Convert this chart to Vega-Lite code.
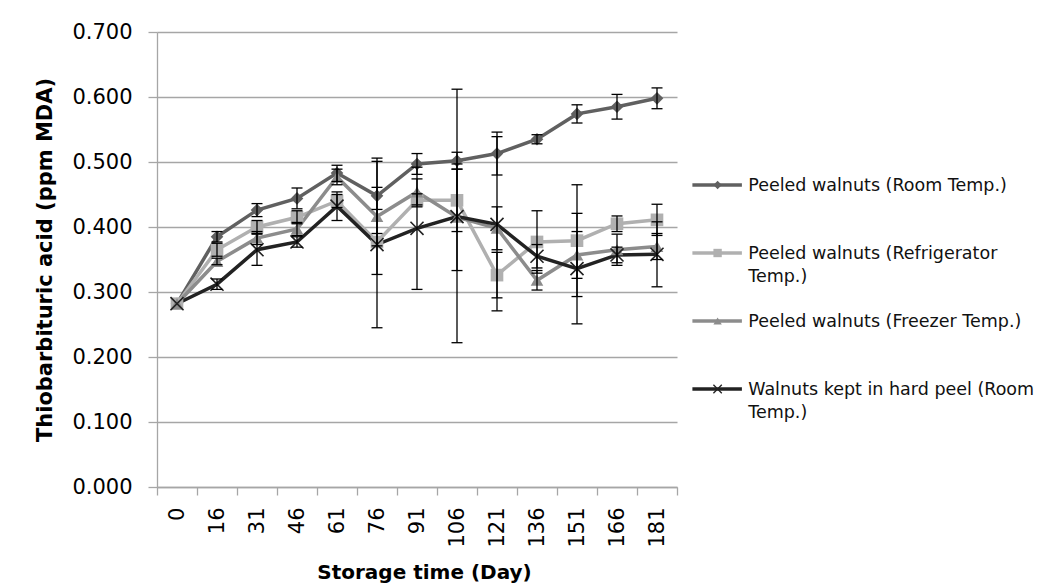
{
  "$schema": "https://vega.github.io/schema/vega-lite/v6.json",
  "background": "white",
  "padding": {"left": 34, "top": 21, "right": 5, "bottom": 5},
  "config": {
    "view": {"stroke": null},
    "font": "DejaVu Sans",
    "concat": {"spacing": 0},
    "text": {"lineBreak": "\n"}
  },
  "resolve": {"scale": {"x": "independent", "y": "independent", "color": "independent", "shape": "independent"}},
  "datasets": {
    "main": [
      {"day": "0", "series": "Room", "value": 0.282, "lo": 0.282, "hi": 0.282},
      {"day": "16", "series": "Room", "value": 0.385, "lo": 0.377, "hi": 0.393},
      {"day": "31", "series": "Room", "value": 0.426, "lo": 0.416, "hi": 0.436},
      {"day": "46", "series": "Room", "value": 0.444, "lo": 0.428, "hi": 0.460},
      {"day": "61", "series": "Room", "value": 0.483, "lo": 0.470, "hi": 0.495},
      {"day": "76", "series": "Room", "value": 0.448, "lo": 0.390, "hi": 0.506},
      {"day": "91", "series": "Room", "value": 0.497, "lo": 0.481, "hi": 0.513},
      {"day": "106", "series": "Room", "value": 0.502, "lo": 0.489, "hi": 0.515},
      {"day": "121", "series": "Room", "value": 0.513, "lo": 0.480, "hi": 0.546},
      {"day": "136", "series": "Room", "value": 0.535, "lo": 0.528, "hi": 0.542},
      {"day": "151", "series": "Room", "value": 0.574, "lo": 0.560, "hi": 0.588},
      {"day": "166", "series": "Room", "value": 0.585, "lo": 0.566, "hi": 0.604},
      {"day": "181", "series": "Room", "value": 0.598, "lo": 0.582, "hi": 0.614},

      {"day": "0", "series": "Refrigerator", "value": 0.282, "lo": 0.282, "hi": 0.282},
      {"day": "16", "series": "Refrigerator", "value": 0.365, "lo": 0.355, "hi": 0.375},
      {"day": "31", "series": "Refrigerator", "value": 0.400, "lo": 0.390, "hi": 0.410},
      {"day": "46", "series": "Refrigerator", "value": 0.415, "lo": 0.405, "hi": 0.425},
      {"day": "61", "series": "Refrigerator", "value": 0.440, "lo": 0.430, "hi": 0.450},
      {"day": "76", "series": "Refrigerator", "value": 0.377, "lo": 0.327, "hi": 0.427},
      {"day": "91", "series": "Refrigerator", "value": 0.441, "lo": 0.431, "hi": 0.451},
      {"day": "106", "series": "Refrigerator", "value": 0.441, "lo": 0.393, "hi": 0.489},
      {"day": "121", "series": "Refrigerator", "value": 0.326, "lo": 0.291, "hi": 0.361},
      {"day": "136", "series": "Refrigerator", "value": 0.377, "lo": 0.329, "hi": 0.425},
      {"day": "151", "series": "Refrigerator", "value": 0.379, "lo": 0.293, "hi": 0.465},
      {"day": "166", "series": "Refrigerator", "value": 0.405, "lo": 0.393, "hi": 0.417},
      {"day": "181", "series": "Refrigerator", "value": 0.411, "lo": 0.387, "hi": 0.435},

      {"day": "0", "series": "Freezer", "value": 0.282, "lo": 0.282, "hi": 0.282},
      {"day": "16", "series": "Freezer", "value": 0.347, "lo": 0.342, "hi": 0.352},
      {"day": "31", "series": "Freezer", "value": 0.383, "lo": 0.373, "hi": 0.393},
      {"day": "46", "series": "Freezer", "value": 0.397, "lo": 0.387, "hi": 0.407},
      {"day": "61", "series": "Freezer", "value": 0.477, "lo": 0.465, "hi": 0.489},
      {"day": "76", "series": "Freezer", "value": 0.416, "lo": 0.371, "hi": 0.461},
      {"day": "91", "series": "Freezer", "value": 0.454, "lo": 0.434, "hi": 0.474},
      {"day": "106", "series": "Freezer", "value": 0.415, "lo": 0.333, "hi": 0.497},
      {"day": "121", "series": "Freezer", "value": 0.398, "lo": 0.365, "hi": 0.431},
      {"day": "136", "series": "Freezer", "value": 0.318, "lo": 0.303, "hi": 0.333},
      {"day": "151", "series": "Freezer", "value": 0.357, "lo": 0.321, "hi": 0.393},
      {"day": "166", "series": "Freezer", "value": 0.365, "lo": 0.341, "hi": 0.389},
      {"day": "181", "series": "Freezer", "value": 0.370, "lo": 0.350, "hi": 0.390},

      {"day": "0", "series": "Hard", "value": 0.282, "lo": 0.282, "hi": 0.282},
      {"day": "16", "series": "Hard", "value": 0.312, "lo": 0.304, "hi": 0.320},
      {"day": "31", "series": "Hard", "value": 0.365, "lo": 0.341, "hi": 0.389},
      {"day": "46", "series": "Hard", "value": 0.377, "lo": 0.369, "hi": 0.385},
      {"day": "61", "series": "Hard", "value": 0.432, "lo": 0.410, "hi": 0.454},
      {"day": "76", "series": "Hard", "value": 0.373, "lo": 0.245, "hi": 0.501},
      {"day": "91", "series": "Hard", "value": 0.398, "lo": 0.304, "hi": 0.492},
      {"day": "106", "series": "Hard", "value": 0.416, "lo": 0.222, "hi": 0.612},
      {"day": "121", "series": "Hard", "value": 0.404, "lo": 0.271, "hi": 0.539},
      {"day": "136", "series": "Hard", "value": 0.355, "lo": 0.337, "hi": 0.373},
      {"day": "151", "series": "Hard", "value": 0.336, "lo": 0.251, "hi": 0.421},
      {"day": "166", "series": "Hard", "value": 0.357, "lo": 0.345, "hi": 0.369},
      {"day": "181", "series": "Hard", "value": 0.358, "lo": 0.308, "hi": 0.408}
    ],
    "legend": [
      {"series": "Room", "label": "Peeled walnuts (Room Temp.)"},
      {"series": "Refrigerator", "label": "Peeled walnuts (Refrigerator\nTemp.)"},
      {"series": "Freezer", "label": "Peeled walnuts (Freezer Temp.)"},
      {"series": "Hard", "label": "Walnuts kept in hard peel (Room\nTemp.)"}
    ]
  },
  "hconcat": [
    {
      "width": 520,
      "height": 455,
      "data": {"name": "main"},
      "encoding": {
        "x": {
          "field": "day",
          "type": "ordinal",
          "sort": ["0","16","31","46","61","76","91","106","121","136","151","166","181"],
          "scale": {"type": "band", "paddingInner": 0, "paddingOuter": 0},
          "axis": {
            "title": "Storage time (Day)",
            "labelAngle": -90,
            "tickBand": "extent",
            "labelFontSize": 21,
            "labelColor": "#000000",
            "labelPadding": 12,
            "tickSize": 8,
            "tickColor": "#a6a6a6",
            "tickWidth": 1.3,
            "domainColor": "#a6a6a6",
            "domainWidth": 1.3,
            "titleFontSize": 20,
            "titleFontWeight": "bold",
            "titleColor": "#000000",
            "titlePadding": 15,
            "titleX": 267,
            "grid": false
          }
        }
      },
      "layer": [
        {
          "mark": {"type": "line", "strokeWidth": 3.5},
          "encoding": {
            "y": {
              "field": "value",
              "type": "quantitative",
              "scale": {"domain": [0, 0.7]},
              "axis": {
                "title": "Thiobarbituric acid (ppm MDA)",
                "format": ".3f",
                "values": [0, 0.1, 0.2, 0.3, 0.4, 0.5, 0.6, 0.7],
                "grid": true,
                "gridColor": "#a6a6a6",
                "gridWidth": 1.3,
                "domainColor": "#a6a6a6",
                "domainWidth": 1.3,
                "tickColor": "#a6a6a6",
                "tickWidth": 1.3,
                "tickSize": 9,
                "labelFontSize": 21,
                "labelColor": "#000000",
                "labelPadding": 16,
                "titleFontSize": 21,
                "titleFontWeight": "bold",
                "titleColor": "#000000",
                "titlePadding": 16
              }
            },
            "color": {
              "field": "series",
              "type": "nominal",
              "scale": {"domain": ["Room","Refrigerator","Freezer","Hard"], "range": ["#606060","#b0b0b0","#8c8c8c","#222222"]},
              "legend": null
            },
            "order": {"value": null}
          }
        },
        {
          "transform": [{"filter": "datum.series !== 'Hard'"}],
          "mark": {"type": "point", "filled": true, "opacity": 1, "size": 160},
          "encoding": {
            "y": {"field": "value", "type": "quantitative"},
            "color": {
              "field": "series",
              "type": "nominal",
              "scale": {"domain": ["Room","Refrigerator","Freezer","Hard"], "range": ["#606060","#b0b0b0","#8c8c8c","#222222"]},
              "legend": null
            },
            "shape": {
              "field": "series",
              "type": "nominal",
              "scale": {"domain": ["Room","Refrigerator","Freezer"], "range": ["diamond","square","triangle-up"]},
              "legend": null
            }
          }
        },
        {
          "transform": [{"filter": "datum.series === 'Hard'"}],
          "mark": {"type": "point", "filled": false, "opacity": 1, "size": 170, "strokeWidth": 1.6, "color": "#222222", "shape": "M-1,-1L1,1M1,-1L-1,1"},
          "encoding": {
            "y": {"field": "value", "type": "quantitative"}
          }
        },
        {
          "transform": [{"filter": "datum.hi > datum.lo"}],
          "mark": {"type": "rule", "color": "#000000", "strokeWidth": 1.3},
          "encoding": {
            "y": {"field": "lo", "type": "quantitative"},
            "y2": {"field": "hi"}
          }
        },
        {
          "transform": [{"filter": "datum.hi > datum.lo"}],
          "mark": {"type": "tick", "color": "#000000", "thickness": 1.3, "size": 11, "opacity": 1},
          "encoding": {
            "y": {"field": "lo", "type": "quantitative"}
          }
        },
        {
          "transform": [{"filter": "datum.hi > datum.lo"}],
          "mark": {"type": "tick", "color": "#000000", "thickness": 1.3, "size": 11, "opacity": 1},
          "encoding": {
            "y": {"field": "hi", "type": "quantitative"}
          }
        }
      ]
    },
    {
      "width": 360,
      "height": 455,
      "data": {"name": "legend"},
      "encoding": {
        "y": {
          "field": "series",
          "type": "ordinal",
          "sort": ["Room","Refrigerator","Freezer","Hard"],
          "scale": {"type": "point", "range": [153, 357], "padding": 0},
          "axis": null
        }
      },
      "layer": [
        {
          "mark": {"type": "rule", "strokeWidth": 3.5},
          "encoding": {
            "x": {"datum": 16, "type": "quantitative", "scale": {"domain": [0, 360]}, "axis": null},
            "x2": {"datum": 71},
            "color": {
              "field": "series",
              "type": "nominal",
              "scale": {"domain": ["Room","Refrigerator","Freezer","Hard"], "range": ["#606060","#b0b0b0","#8c8c8c","#222222"]},
              "legend": null
            }
          }
        },
        {
          "transform": [{"filter": "datum.series !== 'Hard'"}],
          "mark": {"type": "point", "filled": true, "opacity": 1, "size": 70},
          "encoding": {
            "x": {"datum": 44, "type": "quantitative"},
            "color": {
              "field": "series",
              "type": "nominal",
              "scale": {"domain": ["Room","Refrigerator","Freezer","Hard"], "range": ["#606060","#b0b0b0","#8c8c8c","#222222"]},
              "legend": null
            },
            "shape": {
              "field": "series",
              "type": "nominal",
              "scale": {"domain": ["Room","Refrigerator","Freezer"], "range": ["diamond","square","triangle-up"]},
              "legend": null
            }
          }
        },
        {
          "transform": [{"filter": "datum.series === 'Hard'"}],
          "mark": {"type": "point", "filled": false, "opacity": 1, "size": 70, "strokeWidth": 1.3, "color": "#222222", "shape": "M-1,-1L1,1M1,-1L-1,1"},
          "encoding": {
            "x": {"datum": 44, "type": "quantitative"}
          }
        },
        {
          "mark": {"type": "text", "align": "left", "baseline": "alphabetic", "dy": 6, "fontSize": 17.5, "lineHeight": 23, "color": "#111111"},
          "encoding": {
            "x": {"datum": 78, "type": "quantitative"},
            "text": {"field": "label"}
          }
        }
      ]
    }
  ]
}
